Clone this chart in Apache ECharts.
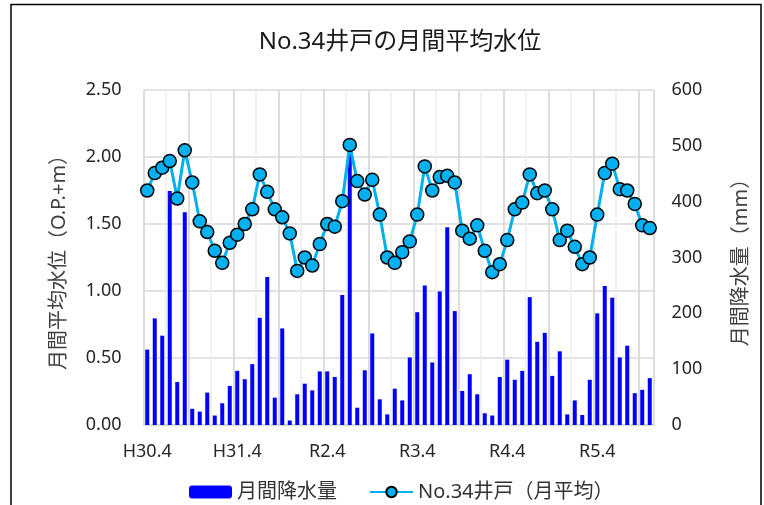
<!DOCTYPE html>
<html>
<head>
<meta charset="utf-8">
<script src="https://cdn.jsdelivr.net/npm/echarts@6/dist/echarts.min.js"></script>
<style>
  html, body { margin: 0; padding: 0; background: #fff; }
  #chart { width: 764px; height: 505px; }
</style>
</head>
<body>
<div id="chart"></div>
<script>
// Monthly labels, H30.4 through R5.11
const months = [
  'H30.4','H30.5','H30.6','H30.7','H30.8','H30.9','H30.10','H30.11','H30.12',
  'H31.1','H31.2','H31.3','H31.4',
  'R1.5','R1.6','R1.7','R1.8','R1.9','R1.10','R1.11','R1.12',
  'R2.1','R2.2','R2.3','R2.4','R2.5','R2.6','R2.7','R2.8','R2.9','R2.10','R2.11','R2.12',
  'R3.1','R3.2','R3.3','R3.4','R3.5','R3.6','R3.7','R3.8','R3.9','R3.10','R3.11','R3.12',
  'R4.1','R4.2','R4.3','R4.4','R4.5','R4.6','R4.7','R4.8','R4.9','R4.10','R4.11','R4.12',
  'R5.1','R5.2','R5.3','R5.4','R5.5','R5.6','R5.7','R5.8','R5.9','R5.10','R5.11'
];

// Monthly rainfall (mm)
const rainfall = [
  135, 191, 160, 419, 77, 381, 29, 24, 58,
  17, 39, 70, 97,
  82, 109, 192, 265, 49, 173, 8, 55,
  74, 62, 96, 96, 86, 233, 502, 31, 98, 164, 46, 19,
  65, 44, 121, 202, 250, 112, 239, 354, 204, 61, 91, 55,
  21, 17, 86, 117, 81, 97, 229, 149, 165, 88, 132, 19,
  44, 18, 81, 200, 249, 228, 121, 142, 57, 63, 84
];

// Well No.34 monthly mean water level (O.P.+m)
const waterLevel = [
  1.75, 1.88, 1.92, 1.97, 1.69, 2.05, 1.81, 1.52, 1.44,
  1.30, 1.21, 1.36, 1.42,
  1.50, 1.61, 1.87, 1.74, 1.61, 1.55, 1.43, 1.15,
  1.25, 1.19, 1.35, 1.50, 1.48, 1.67, 2.09, 1.82, 1.72, 1.83, 1.57, 1.25,
  1.21, 1.29, 1.37, 1.57, 1.93, 1.75, 1.85, 1.86, 1.81, 1.45, 1.39, 1.49,
  1.30, 1.14, 1.20, 1.38, 1.61, 1.66, 1.87, 1.73, 1.75, 1.61, 1.38, 1.45,
  1.33, 1.20, 1.25, 1.57, 1.88, 1.95, 1.76, 1.75, 1.65, 1.49, 1.47
];

const levelTicks = { min: 0, max: 2.5, interval: 0.5 };
const rainTicks = { min: 0, max: 600, interval: 100 };

const FONT = "'Noto Sans', 'Noto Sans CJK JP', sans-serif";
const chart = echarts.init(document.getElementById('chart'), null, { renderer: 'canvas' });

chart.setOption({
  animation: false,
  backgroundColor: '#ffffff',
  textStyle: { fontFamily: FONT },
  graphic: [{
    type: 'rect',
    shape: { x: 11, y: 4.5, width: 750, height: 530 },
    style: { fill: 'none', stroke: '#000', lineWidth: 1.5 },
    silent: true,
    z: 0
  }],
  title: {
    text: 'No.34井戸の月間平均水位',
    left: 395,
    textAlign: 'center',
    top: 25,
    textStyle: { fontFamily: FONT, fontSize: 24, fontWeight: 'normal', color: '#1a1a1a' }
  },
  legend: {
    left: 184,
    top: 477,
    itemWidth: 43,
    itemHeight: 13,
    itemGap: 32,
    textStyle: { fontFamily: FONT, fontSize: 20, color: '#333' },
    data: ['月間降水量', 'No.34井戸（月平均）']
  },
  grid: { left: 143.5, right: 110.5, top: 90, bottom: 80, containLabel: false },
  xAxis: [{
    type: 'category',
    data: months,
    boundaryGap: true,
    axisLine: { lineStyle: { color: '#d9d9d9', width: 1.5 } },
    axisTick: { show: false },
    axisLabel: { interval: 11, margin: 18, fontSize: 18, color: '#262626', fontFamily: FONT },
    splitLine: { show: true, interval: 2, lineStyle: { color: '#ececec', width: 1.5 } }
  }, {
    type: 'category',
    data: months,
    boundaryGap: true,
    position: 'bottom',
    axisLine: { show: false },
    axisTick: { show: false },
    axisLabel: { show: false },
    splitLine: { show: true, interval: 5, lineStyle: { color: '#d6d6d6', width: 1.5 } }
  }],
  yAxis: [{
    type: 'value',
    min: levelTicks.min,
    max: levelTicks.max,
    interval: levelTicks.interval,
    name: '月間平均水位（O.P.+m）',
    nameLocation: 'middle',
    nameRotate: 90,
    nameGap: 74,
    nameTextStyle: { fontFamily: FONT, fontSize: 20, color: '#404040' },
    axisLine: { show: false },
    axisTick: { show: false },
    axisLabel: { margin: 22, fontSize: 18, color: '#262626', fontFamily: FONT,
      formatter: v => v.toFixed(2) },
    splitLine: { show: true, lineStyle: { color: '#d9d9d9', width: 1.5 } }
  }, {
    type: 'value',
    min: rainTicks.min,
    max: rainTicks.max,
    interval: rainTicks.interval,
    position: 'right',
    name: '月間降水量（mm）',
    nameLocation: 'middle',
    nameRotate: 90,
    nameGap: 78,
    nameTextStyle: { fontFamily: FONT, fontSize: 20, color: '#404040' },
    axisLine: { show: false },
    axisTick: { show: false },
    axisLabel: { margin: 18, fontSize: 18, color: '#262626', fontFamily: FONT },
    splitLine: { show: false }
  }],
  series: [{
    name: '月間降水量',
    type: 'bar',
    xAxisIndex: 0,
    yAxisIndex: 1,
    data: rainfall,
    barWidth: 4,
    itemStyle: { color: '#0000ff' },
    z: 2
  }, {
    name: 'No.34井戸（月平均）',
    type: 'line',
    xAxisIndex: 0,
    yAxisIndex: 0,
    data: waterLevel,
    symbol: 'circle',
    symbolSize: 13,
    showSymbol: true,
    showAllSymbol: true,
    lineStyle: { color: '#00b0f0', width: 3 },
    itemStyle: { color: '#00b0f0', borderColor: '#000', borderWidth: 1.5 },
    z: 3
  }]
});
</script>
</body>
</html>
